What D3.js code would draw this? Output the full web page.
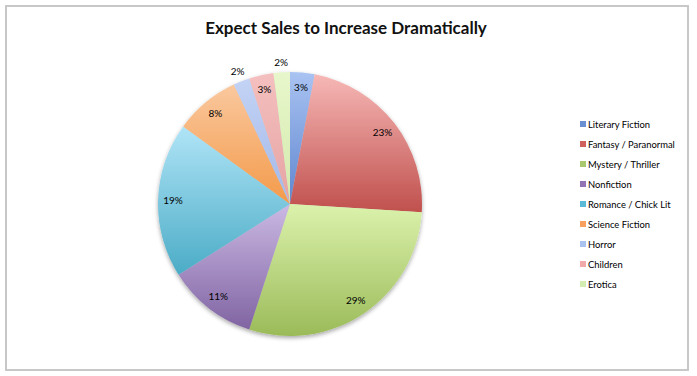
<!DOCTYPE html>
<html>
<head>
<meta charset="utf-8">
<script src="https://cdn.jsdelivr.net/npm/d3@7"></script>
<style>
  body { margin: 0; background: #fff; }
  text { font-family: Lato, "Open Sans", sans-serif; }
</style>
</head>
<body>
<div id="chart"></div>
<script>
const categories = ["Literary Fiction", "Fantasy / Paranormal", "Mystery / Thriller", "Nonfiction",
    "Romance / Chick Lit", "Science Fiction", "Horror", "Children", "Erotica"];
const values = [3, 23, 29, 11, 19, 8, 2, 3, 2];
const title = "Expect Sales to Increase Dramatically";

// light (top) / dark (bottom) colours per slice
const lightColors = ["#a9c3f2", "#f6b8b6", "#dbf2ac", "#cbb9e4", "#b0e4f7", "#fac89e", "#c3d3f5", "#f4c0bf", "#e8f7cb"];
const darkColors = ["#5f86cf", "#c0504d", "#9bbb59", "#8064a2", "#4bacc6", "#f39a4a", "#a3b8e8", "#e6a3a3", "#d3e9ac"];
const legendColors = ["#6a8fd3", "#d0605d", "#a9c86e", "#9074b4", "#5bbad8", "#f7a060", "#aac2f0", "#f0aaaa", "#d3ecb2"];
// small slices whose label sits outside the pie
const outsideLabels = ["Horror", "Erotica"];

const W = 697, H = 376;
const cx = 290, cy = 204, r = 132;

const svg = d3.select("#chart").append("svg")
    .attr("width", W)
    .attr("height", H);

const defs = svg.append("defs");

const shadow = defs.append("filter").attr("id", "shadow")
    .attr("x", "-10%").attr("y", "-10%").attr("width", "120%").attr("height", "125%");
shadow.append("feDropShadow")
    .attr("dx", 0).attr("dy", 2).attr("stdDeviation", 2)
    .attr("flood-color", "#000").attr("flood-opacity", 0.35);

categories.forEach((c, i) => {
    const g = defs.append("linearGradient")
        .attr("id", "grad" + i)
        .attr("x1", 0).attr("y1", 0).attr("x2", 0).attr("y2", 1);
    g.append("stop").attr("offset", "0%").attr("stop-color", lightColors[i]);
    g.append("stop").attr("offset", "100%").attr("stop-color", darkColors[i]);
});

/* frame */
svg.append("rect")
    .attr("x", 6).attr("y", 6)
    .attr("width", 682).attr("height", 364)
    .attr("fill", "#fff")
    .attr("stroke", "#c8c8c8")
    .attr("stroke-width", 2);

/* title */
svg.append("text")
    .attr("x", 346)
    .attr("y", 34)
    .attr("text-anchor", "middle")
    .attr("font-size", 17)
    .attr("font-weight", "bold")
    .attr("fill", "#111")
    .text(title);

const data = categories.map((c, i) => ({ name: c, value: values[i], idx: i }));

const pie = d3.pie().sort(null).value(d => d.value);
const arcs = pie(data);

const arc = d3.arc().innerRadius(0).outerRadius(r);
const labelArc = d3.arc().innerRadius(117).outerRadius(117);
const outerLabelArc = d3.arc().innerRadius(142).outerRadius(142);

const g = svg.append("g").attr("transform", `translate(${cx}, ${cy})`);

g.append("g").attr("filter", "url(#shadow)")
    .selectAll("path")
    .data(arcs)
    .enter()
    .append("path")
    .attr("d", arc)
    .attr("fill", d => `url(#grad${d.data.idx})`);

g.selectAll(".label")
    .data(arcs)
    .enter()
    .append("text")
    .attr("class", "label")
    .attr("transform", d => {
        const a = outsideLabels.includes(d.data.name) ? outerLabelArc : labelArc;
        return `translate(${a.centroid(d)})`;
    })
    .attr("text-anchor", "middle")
    .attr("dy", "0.35em")
    .attr("font-size", 10)
    .attr("fill", "#000")
    .text(d => d.data.value + "%");

/* legend */
const legend = svg.append("g").attr("transform", "translate(580, 125)");

const item = legend.selectAll("g")
    .data(categories)
    .enter()
    .append("g")
    .attr("transform", (d, i) => `translate(0, ${i * 20})`);

item.append("rect")
    .attr("x", 0).attr("y", -4)
    .attr("width", 6).attr("height", 6)
    .attr("fill", (d, i) => legendColors[i]);

item.append("text")
    .attr("x", 8)
    .attr("y", 0)
    .attr("dy", "0.35em")
    .attr("font-size", 9.4)
    .attr("fill", "#000")
    .text(d => d);
</script>
</body>
</html>
